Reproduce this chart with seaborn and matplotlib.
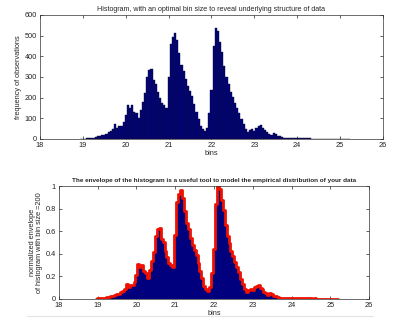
import numpy as np
import pandas as pd
import matplotlib
matplotlib.use("Agg")
import matplotlib.pyplot as plt
from matplotlib.lines import Line2D
import seaborn as sns

# ---- data ----
bin_start = 18.95
bin_width = 0.05
counts = [1, 2, 2, 3, 4, 5, 7, 9, 12, 15, 18, 21, 25, 32, 38, 48, 70, 55, 65, 64,
          82, 115, 165, 150, 163, 132, 125, 100, 138, 180, 222, 300, 332, 338, 285, 268, 228, 200, 172, 162,
          150, 302, 460, 495, 515, 480, 418, 360, 330, 290, 255, 232, 208, 170, 130, 98, 62, 46, 38, 55,
          125, 238, 450, 535, 522, 470, 420, 352, 300, 265, 225, 202, 176, 152, 126, 96, 72, 48, 35, 42,
          46, 40, 55, 62, 66, 52, 45, 32, 26, 20, 27, 22, 15, 12, 8, 6, 5, 4, 3, 3,
          4, 4, 5, 5, 4, 4, 3, 3, 2, 2, 2, 2, 1, 2, 1, 1, 1, 1, 1, 1,
          1, 1, 1, 1, 1, 1]
x_ticks = [18, 19, 20, 21, 22, 23, 24, 25, 26]
top_yticks = [0, 100, 200, 300, 400, 500, 600]
bot_yticks = [0, 0.2, 0.4, 0.6, 0.8, 1]
bot_yticklabels = ["0", "0.2", "0.4", "0.6", "0.8", "1"]
title_top = "Histogram, with an optimal bin size to reveal underlying structure of data"
title_bot = "The envelope of the histogram is a useful tool to model the empirical distribution of your data"

counts = np.array(counts, dtype=float)
centers = bin_start + bin_width * np.arange(len(counts))
env = counts / counts.max()
df = pd.DataFrame({"bins": centers, "count": counts, "env": env})

sns.set_style("ticks")
plt.rcParams['font.family'] = ['Liberation Sans', 'DejaVu Sans']
FS = 5.3

fig = plt.figure(figsize=(4.03, 3.18), dpi=100)
ax1 = fig.add_axes([0.0993, 0.563, 0.851, 0.390])
ax2 = fig.add_axes([0.146, 0.060, 0.770, 0.355])

navy = "#00007F"
sns.histplot(data=df, x="bins", weights="count", binwidth=bin_width,
             binrange=(centers[0] - bin_width / 2, centers[-1] + bin_width / 2),
             ax=ax1, color=navy, edgecolor="#111133", linewidth=0.3, alpha=1)
ax1.set_xlim(18, 26)
ax1.set_ylim(0, 600)
ax1.set_xticks(x_ticks)
ax1.set_yticks(top_yticks)
ax1.set_title(title_top, fontsize=5.1, pad=3)
ax1.set_xlabel("bins", fontsize=FS, labelpad=1)
ax1.set_ylabel("frequency of observations", fontsize=FS, labelpad=2)

ax2.fill_between(df["bins"], df["env"], 0, step="mid", color=navy, linewidth=0)
sns.lineplot(data=df, x="bins", y="env", ax=ax2, color="#EE1100", linewidth=2.0,
             drawstyle="steps-mid")
ax2.set_xlim(18, 26)
ax2.set_ylim(0, 1)
ax2.set_xticks(x_ticks)
ax2.set_yticks(bot_yticks)
ax2.set_yticklabels(bot_yticklabels)
ax2.set_title(title_bot, fontsize=4.6, pad=3, fontweight="bold")
ax2.set_xlabel("bins", fontsize=FS, labelpad=1)
ax2.set_ylabel("normalized envelope\nof histogram with bin size =200", fontsize=FS,
               labelpad=2, linespacing=1.0)

for ax in (ax1, ax2):
    ax.tick_params(direction="in", length=2.5, width=0.5, labelsize=FS,
                   top=True, right=True, colors="#222222")
    ax.tick_params(axis="x", pad=2.2)
    ax.tick_params(axis="y", pad=2.2)
    for s in ax.spines.values():
        s.set_visible(True)
        s.set_linewidth(0.5)
        s.set_color("#333333")

# faint separator line seen in the reference at the bottom of the picture
fig.add_artist(Line2D([27 / 403, 373 / 403], [1 - 316 / 318, 1 - 316 / 318],
                      color="#e4e4e4", linewidth=0.8))

fig.savefig("out.png", dpi=100)
